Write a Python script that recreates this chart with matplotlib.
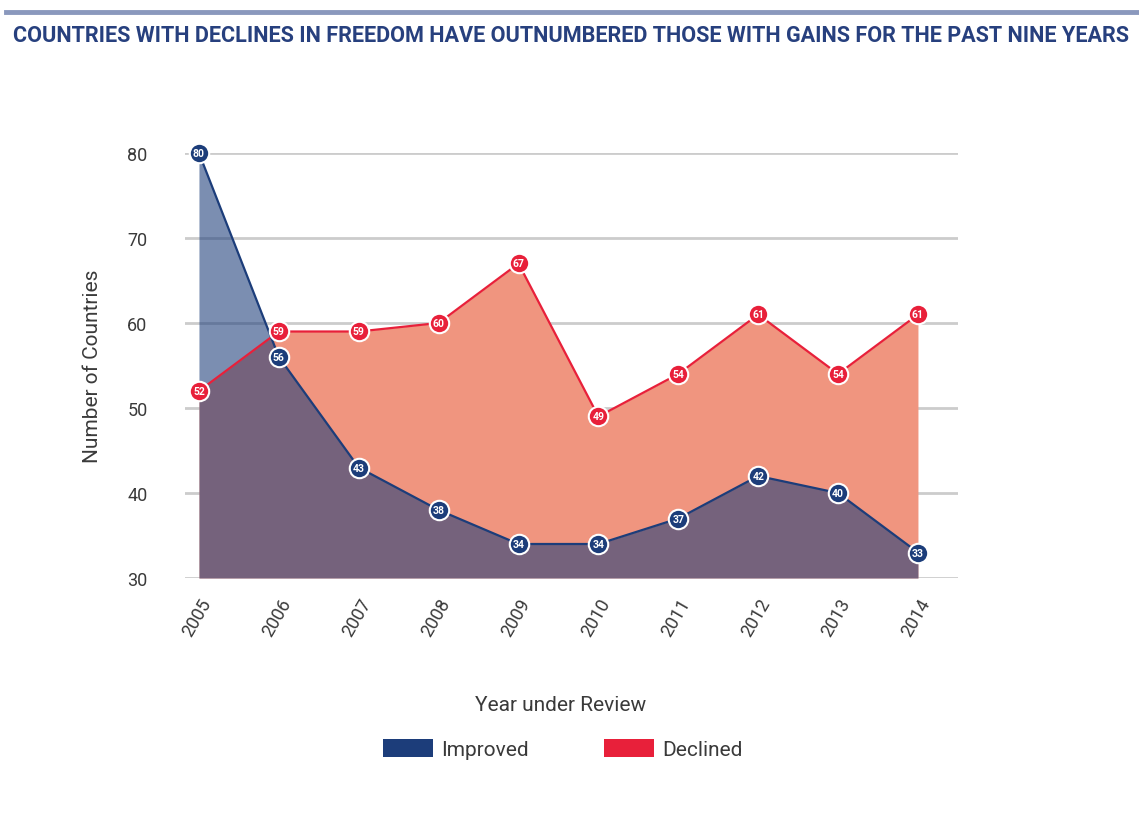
import matplotlib.pyplot as plt
from matplotlib.lines import Line2D
from matplotlib.patches import Patch

years = [2005, 2006, 2007, 2008, 2009, 2010, 2011, 2012, 2013, 2014]
improved = [80, 56, 43, 38, 34, 34, 37, 42, 40, 33]
declined = [52, 59, 59, 60, 67, 49, 54, 61, 54, 61]
y_ticks = [30, 40, 50, 60, 70, 80]

NAVY = "#1c3d7a"
RED = "#e8203a"
SALMON = "#f0957f"
GRID = "#cccccc"
TEXT = "#3a3a3a"

plt.rcParams["font.family"] = ["Roboto", "DejaVu Sans"]

fig = plt.figure(figsize=(11.39, 8.2), dpi=100)
ax = fig.add_axes([0.1624, 0.2939, 0.6786, 0.5183])

# areas
ax.fill_between(years, 30, declined, color=SALMON, lw=0, zorder=1)
ax.fill_between(years, 30, improved, color=NAVY, alpha=0.58, lw=0, zorder=2)
ax.plot(years, declined, color=RED, lw=1.6, zorder=3)
ax.plot(years, improved, color=NAVY, lw=1.6, zorder=4)

# markers with value labels
for vals, col, z in [(declined, RED, 5), (improved, NAVY, 6)]:
    ax.plot(years, vals, "o", ms=14, mfc=col, mec="white", mew=1.5,
            zorder=z, clip_on=False)
    for x, v in zip(years, vals):
        ax.text(x, v, str(v), ha="center", va="center", color="white",
                fontsize=7.5, fontweight="bold", zorder=z + 0.5)

ax.set_xlim(2004.825, 2014.5)
ax.set_ylim(30, 80)
ax.set_yticks(y_ticks)
ax.set_xticks(years)
ax.set_xticklabels([str(y) for y in years], rotation=60, ha="right",
                   rotation_mode="anchor")
ax.tick_params(axis="both", length=0, labelsize=13, colors=TEXT)
ax.tick_params(axis="y", pad=27)
ax.tick_params(axis="x", pad=12)
ax.yaxis.grid(True, color=GRID, lw=2)
ax.set_axisbelow(True)
for s in ax.spines.values():
    s.set_visible(False)

ax.set_ylabel("Number of Countries", fontsize=15, color=TEXT, labelpad=18)
fig.text(0.492, 0.14, "Year under Review", ha="center", va="center",
         fontsize=15, color=TEXT)

handles = [Patch(facecolor=NAVY, label="Improved"),
           Patch(facecolor=RED, label="Declined")]
fig.legend(handles=handles, loc="center", bbox_to_anchor=(0.494, 0.085),
           ncol=2, frameon=False, fontsize=15, handlelength=2.4,
           handleheight=0.9, columnspacing=3.6, handletextpad=0.4,
           labelcolor=TEXT)

# header rule and title
fig.add_artist(Line2D([0.005, 1.0], [0.984, 0.984], color="#8a98bd", lw=3.5))
fig.text(0.011, 0.956, "COUNTRIES WITH DECLINES IN FREEDOM HAVE OUTNUMBERED THOSE WITH GAINS FOR THE PAST NINE YEARS",
         ha="left", va="center", fontsize=15.6, fontweight="bold", color="#27407e")

fig.savefig("out.png", dpi=100)
